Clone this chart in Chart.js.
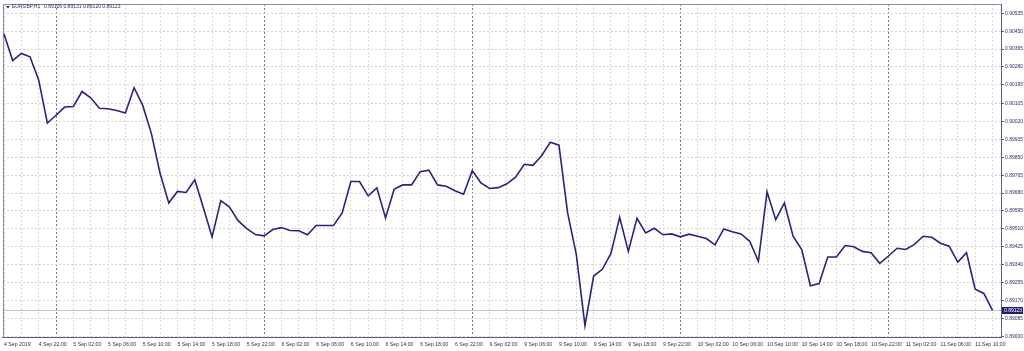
<!DOCTYPE html>
<html>
<head>
<meta charset="utf-8">
<script src="https://cdn.jsdelivr.net/npm/chart.js@4.4.1/dist/chart.umd.min.js"></script>
<style>
  html, body { margin: 0; padding: 0; background: #fff; }
</style>
</head>
<body>
<canvas id="chart" width="1024" height="351"></canvas>
<script>
// EURGBP H1 closes, one per bar from 4 Sep 18:00 to 11 Sep 12:00
const closes = [
    0.90436, 0.90310, 0.90344, 0.90328, 0.90218, 0.90013, 0.90050, 0.90089, 0.90092, 0.90163,
    0.90133, 0.90083, 0.90081, 0.90073, 0.90061, 0.90181, 0.90097, 0.89963, 0.89774, 0.89633,
    0.89688, 0.89683, 0.89743, 0.89609, 0.89472, 0.89644, 0.89614, 0.89549, 0.89511, 0.89483,
    0.89477, 0.89507, 0.89516, 0.89502, 0.89501, 0.89482, 0.89526, 0.89526, 0.89526, 0.89586,
    0.89735, 0.89735, 0.89667, 0.89705, 0.89562, 0.89699, 0.89719, 0.89719, 0.89782, 0.89789,
    0.89719, 0.89713, 0.89691, 0.89675, 0.89787, 0.89729, 0.89702, 0.89706, 0.89724, 0.89756,
    0.89817, 0.89812, 0.89858, 0.89922, 0.89908, 0.89586, 0.89389, 0.89050, 0.89286, 0.89318,
    0.89393, 0.89565, 0.89403, 0.89560, 0.89491, 0.89513, 0.89482, 0.89486, 0.89472, 0.89485,
    0.89475, 0.89464, 0.89434, 0.89510, 0.89496, 0.89486, 0.89451, 0.89356, 0.89686, 0.89554,
    0.89633, 0.89475, 0.89412, 0.89240, 0.89250, 0.89376, 0.89376, 0.89431, 0.89425, 0.89403,
    0.89397, 0.89346, 0.89381, 0.89418, 0.89412, 0.89436, 0.89475, 0.89470, 0.89442, 0.89428,
    0.89352, 0.89397, 0.89223, 0.89203, 0.89123
];

// time labels, one every 4 bars
const timeLabels = [
    '4 Sep 2019', '4 Sep 22:00', '5 Sep 02:00', '5 Sep 06:00', '5 Sep 10:00', '5 Sep 14:00',
    '5 Sep 18:00', '5 Sep 22:00', '6 Sep 02:00', '6 Sep 06:00', '6 Sep 10:00', '6 Sep 14:00',
    '6 Sep 18:00', '6 Sep 22:00', '9 Sep 02:00', '9 Sep 06:00', '9 Sep 10:00', '9 Sep 14:00',
    '9 Sep 18:00', '9 Sep 22:00', '10 Sep 02:00', '10 Sep 06:00', '10 Sep 10:00', '10 Sep 14:00',
    '10 Sep 18:00', '10 Sep 22:00', '11 Sep 02:00', '11 Sep 06:00', '11 Sep 10:00'
];

// price scale labels
const priceTicks = [
    0.90535, 0.90450, 0.90365, 0.90280, 0.90195, 0.90105, 0.90020, 0.89935, 0.89850, 0.89765,
    0.89680, 0.89595, 0.89510, 0.89425, 0.89340, 0.89255, 0.89170, 0.89085, 0.89000
];

// bars where a new day starts (day separators)
const daySeparators = [6, 30, 54, 78, 102];

const symbolName = 'EURGBP,H1';
const lastBarOHLC = [0.89126, 0.89131, 0.89120, 0.89123];

const textColor = '#2e2e5e';
const axisColor = '#5c5c7c';

// MT4 style extras: header text, bid line and price box
const mtDecor = {
    id: 'mtDecor',
    beforeDatasetsDraw(chart) {
        const { ctx, chartArea: a, scales: { y } } = chart;
        const bid = lastBarOHLC[3];
        const py = Math.round(y.getPixelForValue(bid)) + 0.5;
        ctx.save();
        ctx.strokeStyle = '#c4c4d4';
        ctx.lineWidth = 1;
        ctx.beginPath();
        ctx.moveTo(a.left, py);
        ctx.lineTo(a.right, py);
        ctx.stroke();

        // left and top frame
        ctx.strokeStyle = '#8c8c9c';
        ctx.beginPath();
        ctx.moveTo(a.left + 0.5, a.bottom);
        ctx.lineTo(a.left + 0.5, a.top + 0.5);
        ctx.lineTo(a.right, a.top + 0.5);
        ctx.stroke();
        ctx.restore();
    },
    afterDraw(chart) {
        const { ctx, chartArea: a, scales: { y } } = chart;
        const bid = lastBarOHLC[3];
        const py = Math.round(y.getPixelForValue(bid));
        ctx.save();
        // price box on the axis
        ctx.fillStyle = '#1e1e6e';
        ctx.fillRect(a.right + 1, py - 3, 21, 7);
        ctx.fillStyle = '#ffffff';
        ctx.font = '5px "Liberation Sans"';
        ctx.textBaseline = 'middle';
        ctx.fillText(bid.toFixed(5), a.right + 3, py + 0.5);

        // header
        ctx.fillStyle = textColor;
        ctx.beginPath();
        ctx.moveTo(a.left + 3, a.top + 2);
        ctx.lineTo(a.left + 7, a.top + 2);
        ctx.lineTo(a.left + 5, a.top + 4.5);
        ctx.closePath();
        ctx.fill();
        ctx.font = '5px "Liberation Sans"';
        ctx.fillText(symbolName, a.left + 9, a.top + 3);
        ctx.fillText(lastBarOHLC.map(v => v.toFixed(5)).join(' '), a.left + 41, a.top + 3);
        ctx.restore();
    }
};

const ctx = document.getElementById('chart').getContext('2d');
const chart = new Chart(ctx, {
    type: 'line',
    data: {
        datasets: [{
            data: closes.map((v, i) => ({ x: i, y: v })),
            borderColor: '#25257f',
            borderWidth: 1.6,
            pointRadius: 0,
            tension: 0,
            fill: false
        }]
    },
    options: {
        responsive: false,
        animation: false,
        events: [],
        layout: { padding: { top: 3, left: 2, right: 0, bottom: 0 } },
        plugins: {
            legend: { display: false },
            tooltip: { enabled: false }
        },
        scales: {
            x: {
                type: 'linear',
                min: -0.12,
                max: 114.98,
                afterBuildTicks: scale => {
                    const t = [];
                    for (let i = 0; i < closes.length; i += 2) t.push({ value: i });
                    scale.ticks = t;
                },
                afterFit: scale => { scale.height = 14; },
                grid: {
                    color: c => daySeparators.includes(c.tick && c.tick.value) ? '#7a7a8a' : '#d6d6d6',
                    lineWidth: 1,
                    drawTicks: false
                },
                border: { display: true, color: axisColor, width: 1, dash: [2, 2] },
                ticks: {
                    autoSkip: false,
                    maxRotation: 0,
                    minRotation: 0,
                    align: 'start',
                    padding: 4,
                    color: textColor,
                    font: { family: 'Liberation Sans', size: 5.2 },
                    callback: v => (v % 4 === 0 ? timeLabels[v / 4] : '')
                }
            },
            y: {
                type: 'linear',
                position: 'right',
                min: 0.88996,
                max: 0.90579,
                afterBuildTicks: scale => {
                    scale.ticks = priceTicks.map(v => ({ value: v }));
                },
                afterFit: scale => { scale.width = 23; },
                grid: {
                    color: '#d6d6d6',
                    lineWidth: 1,
                    tickLength: 3,
                    tickColor: axisColor,
                    tickBorderDash: []
                },
                border: { display: true, color: axisColor, width: 1, dash: [2, 2] },
                ticks: {
                    padding: 1,
                    color: textColor,
                    font: { family: 'Liberation Sans', size: 5 },
                    callback: v => v.toFixed(5)
                }
            }
        }
    },
    plugins: [mtDecor]
});
</script>
</body>
</html>
